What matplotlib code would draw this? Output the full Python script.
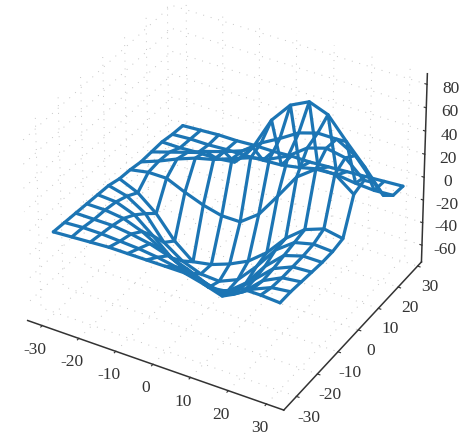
import numpy as np
from matplotlib import pyplot as plt

plt.rcParams['font.family'] = ['Liberation Serif', 'DejaVu Serif']
plt.rcParams['axes.unicode_minus'] = False
plt.rcParams['grid.color'] = '#c4c4c4'
plt.rcParams['grid.linestyle'] = (0, (1, 7))
plt.rcParams['grid.linewidth'] = 0.7

# grid, x and y every 5
x_vals = [-30, -25, -20, -15, -10, -5, 0, 5, 10, 15, 20, 25, 30]
y_vals = [-30, -25, -20, -15, -10, -5, 0, 5, 10, 15, 20, 25, 30]

z_m30 = [-4, -3, -2, -1, -1, -1, -1, -1, -5, -10, 2, 2, 1]
z_m25 = [-5, -4, -4, -5, -6, -8, -11, -14, -19, -18, -8, -1, 1]
z_m20 = [-6, -6, -6, -8, -11, -16, -22, -29, -33, -25, -10, -2, 0]
z_m15 = [-7, -7, -9, -15, -24, -33, -39, -45, -39, -24, -9, -2, -1]
z_m10 = [-8, -9, -15, -28, -42, -50, -57, -55, -42, -22, -7, -2, -2]
z_m5 = [-9, -13, -23, -43, -54, -60, -61, -54, -37, -17, -5, -1, -2]
z_0 = [-12, -19, -32, -51, -64, -61, -55, -47, -34, -16, -3, 3, 0]
z_5 = [-13, -10, -10, -17, -23, -27, -27, -15, 6, 28, 40, 41, 29]
z_10 = [-15, -9, -2, 4, 8, 14, 20, 24, 32, 44, 49, 46, 32]
z_15 = [-15, -10, -5, 1, 6, 12, 24, 33, 43, 48, 48, 39, 21]
z_20 = [-15, -15, -14, -14, -12, 6, 35, 53, 61, 55, 37, 20, 1]
z_25 = [-17, -16, -16, -15, -15, -14, -13, -10, -6, -6, -8, -9, -8]
z_30 = [-18, -17, -16, -16, -15, -15, -14, -14, -13, -12, -11, -10, -9]

z_ticks = [-60, -40, -20, 0, 20, 40, 60, 80]


def showPlot():
    fig = plt.figure(figsize=(4.74, 4.45), dpi=100)
    ax = fig.add_axes([-0.035, 0.042, 1, 1], projection='3d', proj_type='persp', focal_length=1.8)
    ax.view_init(elev=34.7, azim=-60)

    X, Y = np.meshgrid(x_vals, y_vals)
    Z = np.array([z_m30, z_m25, z_m20, z_m15, z_m10, z_m5, z_0, z_5, z_10, z_15, z_20, z_25, z_30], dtype=float)
    ax.plot_wireframe(X, Y, Z, color='#1c75b4', linewidth=2.3, capstyle='round', joinstyle='round')

    ax.set_xlim(-34, 34.5)
    ax.set_ylim(-36, 32)
    ax.set_zlim(-75, 89)
    ax.set_box_aspect((298, 290, 232), zoom=1.03)

    ax.set_xticks([-30, -20, -10, 0, 10, 20, 30])
    ax.set_yticks([-30, -20, -10, 0, 10, 20, 30])
    ax.set_zticks(z_ticks)
    ax.tick_params(labelsize=12.5, colors='#333333', pad=0)
    ax.tick_params(axis='z', pad=2)

    ax.xaxis._axinfo['tick'].update(inward_factor=0.12, outward_factor=0)
    ax.yaxis._axinfo['tick'].update(inward_factor=0.12, outward_factor=0)
    ax.zaxis._axinfo['tick'].update(inward_factor=0, outward_factor=0.1)

    for axis in [ax.xaxis, ax.yaxis, ax.zaxis]:
        axis.set_pane_color((1, 1, 1, 0))
        axis.pane.set_edgecolor('none')
        axis.line.set_color('#333333')
        axis.line.set_linewidth(1.1)

    fig.savefig('out.png', dpi=100)


def main():
    showPlot()


if __name__ == '__main__':
    main()
